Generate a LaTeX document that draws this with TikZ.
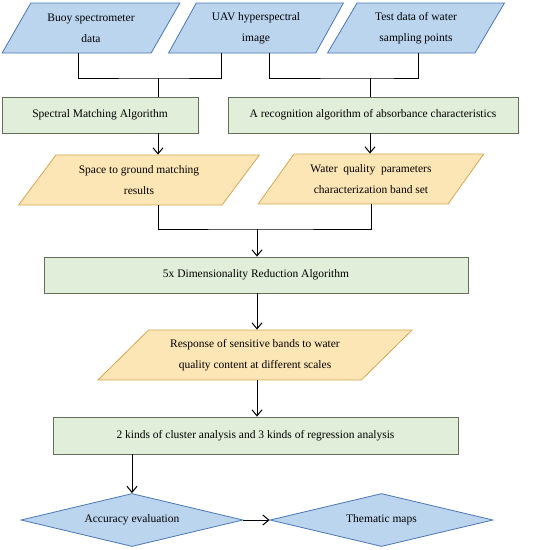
\documentclass[tikz,border=0pt]{standalone}
\usepackage{fontspec}
\setmainfont{Liberation Serif}
\usetikzlibrary{arrows.meta,positioning,shapes.geometric}
\definecolor{bluefill}{RGB}{187,213,238}
\definecolor{blueline}{RGB}{72,118,182}
\definecolor{greenfill}{RGB}{224,238,218}
\definecolor{greenline}{RGB}{98,112,88}
\definecolor{orangefill}{RGB}{253,230,182}
\definecolor{orangeline}{RGB}{214,164,82}

\begin{document}
\begin{tikzpicture}[x=1pt, y=-1pt,
  txt/.style={align=center, font=\fontsize{11.5}{21}\selectfont, inner sep=0pt},
  io/.style={txt, trapezium, trapezium stretches=true, minimum height=50pt,
             line width=0.8pt},
  ioblue/.style={io, draw=blueline, fill=bluefill},
  ioorange/.style={io, draw=orangeline, fill=orangefill},
  bx/.style={txt, draw=greenline, fill=greenfill, line width=0.8pt,
             minimum height=36pt},
  dm/.style={txt, diamond, aspect=4.2, draw=blueline, fill=bluefill, line width=0.8pt,
             minimum height=53pt},
  ar/.style={-{Straight Barb[length=6pt,width=10pt]}},
  ln/.style={line width=1pt}]
\useasboundingbox (0,0) rectangle (546,550);
% inputs
\node[ioblue, minimum width=178pt, trapezium left angle=54, trapezium right angle=126]
  (buoy) at (91,28) {Buoy spectrometer\\data};
\node[ioblue, minimum width=175pt, trapezium left angle=57, trapezium right angle=123]
  (uav) at (256,28) {UAV hyperspectral\\image};
\node[ioblue, minimum width=177pt, trapezium left angle=57, trapezium right angle=123]
  (test) at (416,28) {Test data of water\\sampling points};
% algorithms
\node[bx, minimum width=196pt] (match) at (100,115) {Spectral Matching Algorithm};
\node[bx, minimum width=290pt] (recog) at (373,115)
  {A recognition algorithm of absorbance characteristics};
% results
\node[ioorange, minimum width=241pt, trapezium left angle=47, trapezium right angle=133]
  (ground) at (139,180) {Space to ground matching\\results};
\node[ioorange, minimum width=226pt, trapezium left angle=46, trapezium right angle=134]
  (bands) at (371,179) {Water\enspace quality\enspace parameters\\characterization band set};
\node[bx, minimum width=424pt] (dimred) at (256,275) {5x Dimensionality Reduction Algorithm};
\node[ioorange, minimum width=315pt, trapezium left angle=38, trapezium right angle=142]
  (resp) at (255,355) {Response of sensitive bands to water\\quality content at different scales};
\node[bx, minimum width=405pt, minimum height=37pt] (clus) at (255.5,435.5)
  {2 kinds of cluster analysis and 3 kinds of regression analysis};
% outputs
\node[dm, minimum width=222pt] (acc) at (132,520) {Accuracy evaluation};
\node[dm, minimum width=223pt] (maps) at (381.5,520) {Thematic maps};
% junctions
\coordinate (j1) at (158,78);
\coordinate (j2) at (370,78);
\coordinate (j3) at (257,229);
% connectors
\draw[ln] ([xshift=-13pt]buoy.south) |- (j1) -| ([xshift=-35pt]uav.south);
\draw[ln] (j1) -- (j1 |- match.north);
\draw[ln] ([xshift=13pt]uav.south) |- (j2) -| ([xshift=2pt]test.south);
\draw[ln] (j2) -- (j2 |- recog.north);
\draw[ln, ar] (j1 |- match.south) -- (j1 |- ground.north);
\draw[ln, ar] (j2 |- recog.south) -- (j2 |- bands.north);
\draw[ln] (j1 |- ground.south) |- (j3) -| (bands.south);
\draw[ln, ar] (j3) -- (j3 |- dimred.north);
\draw[ln, ar] (j3 |- dimred.south) -- (j3 |- resp.north);
\draw[ln, ar] (j3 |- resp.south) -- (j3 |- clus.north);
\draw[ln, ar] (acc.north |- clus.south) -- (acc.north);
\draw[ln, ar] (acc.east) -- (maps.west);
\end{tikzpicture}
\end{document}
